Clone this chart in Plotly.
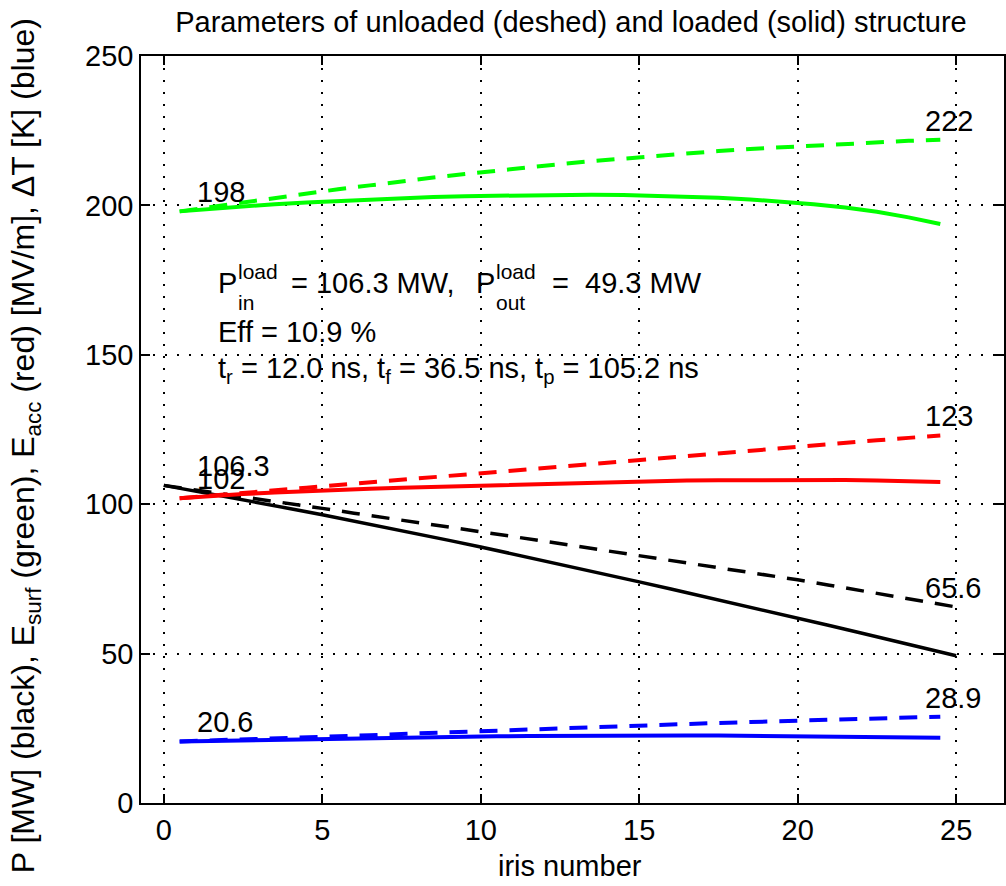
import plotly.graph_objects as go

# ---- data -----------------------------------------------------------------
iris = list(range(26))                    # iris index 0..25 (power)
cell = [i + 0.5 for i in range(25)]       # cell centres 0.5..24.5 (fields, dT)

# input / output power [MW]
p_unloaded = [106.3, 104.8, 103.2, 101.7, 100.1, 98.6, 97.0, 95.5, 93.9, 92.4,
              90.8, 89.2, 87.6, 86.0, 84.4, 82.8, 81.2, 79.6, 78.0, 76.4,
              74.7, 72.9, 71.1, 69.3, 67.5, 65.6]
p_loaded = [106.3, 104.4, 102.5, 100.5, 98.5, 96.5, 94.4, 92.3, 90.1, 87.9,
            85.7, 83.4, 81.1, 78.8, 76.4, 74.0, 71.6, 69.2, 66.8, 64.4,
            61.9, 59.4, 56.9, 54.4, 51.9, 49.3]

# surface field [MV/m]
esurf_unloaded = [198.0, 199.5, 201.1, 202.5, 204.0, 205.4, 206.7, 208.1, 209.3,
                  210.5, 211.7, 212.8, 213.8, 214.8, 215.7, 216.6, 217.4, 218.2,
                  218.9, 219.5, 220.1, 220.7, 221.2, 221.6, 222.0]
esurf_loaded = [198.0, 198.9, 199.7, 200.4, 201.0, 201.5, 202.0, 202.4, 202.8,
                203.1, 203.3, 203.5, 203.6, 203.6, 203.5, 203.3, 203.0, 202.6,
                202.0, 201.3, 200.4, 199.3, 197.9, 196.0, 193.8]

# accelerating field [MV/m]
eacc_unloaded = [102.0, 102.8, 103.7, 104.6, 105.5, 106.4, 107.3, 108.2, 109.1,
                 110.0, 110.9, 111.8, 112.7, 113.6, 114.5, 115.4, 116.3, 117.2,
                 118.0, 118.9, 119.7, 120.6, 121.4, 122.2, 123.0]
eacc_loaded = [102.0, 102.8, 103.4, 103.9, 104.4, 104.8, 105.2, 105.5, 105.8,
               106.1, 106.4, 106.7, 107.0, 107.3, 107.5, 107.7, 107.9, 108.0,
               108.1, 108.2, 108.2, 108.1, 107.9, 107.7, 107.4]

# pulsed surface heating dT [K]
dt_unloaded = [20.6, 20.9, 21.2, 21.5, 21.9, 22.3, 22.7, 23.1, 23.5, 23.9, 24.3,
               24.7, 25.1, 25.5, 25.8, 26.2, 26.5, 26.8, 27.1, 27.4, 27.7, 28.0,
               28.3, 28.6, 28.9]
dt_loaded = [20.6, 20.8, 21.0, 21.2, 21.4, 21.6, 21.8, 22.0, 22.1, 22.2, 22.3,
             22.4, 22.5, 22.5, 22.6, 22.6, 22.6, 22.6, 22.5, 22.5, 22.4, 22.3,
             22.2, 22.0, 21.8]

# summary figures
pin_load = 106.3
pout_load = 49.3
eff = 10.9
t_rise = 12.0
t_fill = 36.5
t_pulse = 105.2

x_ticks = [0, 5, 10, 15, 20, 25]
y_ticks = [0, 50, 100, 150, 200, 250]

# ---- figure ---------------------------------------------------------------
W, H = 1006, 886
L, R, T, B = 141, 0, 56, 83
FONT = "Liberation Sans, Arial, Helvetica, sans-serif"
DASH = "18px,12px"

fig = go.Figure()

series = [
    (iris, p_unloaded, "black", DASH, 3.5),
    (iris, p_loaded, "black", "solid", 3.5),
    (cell, esurf_unloaded, "#00ff00", DASH, 4),
    (cell, esurf_loaded, "#00ff00", "solid", 4),
    (cell, eacc_unloaded, "#ff0000", DASH, 4),
    (cell, eacc_loaded, "#ff0000", "solid", 4),
    (cell, dt_unloaded, "#0000ff", DASH, 4),
    (cell, dt_loaded, "#0000ff", "solid", 4),
]
for xs, ys, col, dash, w in series:
    fig.add_trace(go.Scatter(x=xs, y=ys, mode="lines",
                             line=dict(color=col, width=w, dash=dash),
                             showlegend=False, hoverinfo="skip"))

# value labels at the start and end of the curves
def fmt(v):
    return f"{round(v, 1):g}"

value_labels = [
    (cell[0], esurf_loaded[0]),
    (cell[-1], esurf_unloaded[-1]),
    (cell[0], eacc_loaded[0]),
    (cell[-1], eacc_unloaded[-1]),
    (iris[0], p_loaded[0]),
    (iris[-1], p_unloaded[-1]),
    (cell[0], dt_loaded[0]),
    (cell[-1], dt_unloaded[-1]),
]
for xv, yv in value_labels:
    xpos = 1 if xv < 12 else 24
    fig.add_annotation(x=xpos, y=yv, text=fmt(yv), showarrow=False,
                       xanchor="left", yanchor="bottom", xref="x", yref="y",
                       yshift=2, font=dict(size=29, color="black"),
                       borderpad=0)

# summary text block (positions in pixels inside the figure)
PW = W - L - R
PH = H - T - B

def px(xp):
    return (xp - L) / PW

def py(yp):
    return (H - B - yp) / PH

big, small = 29, 21
pieces = [
    ("P", 217, 283, big),
    ("load", 237, 271, small),
    ("in", 237, 302, small),
    (f"= {pin_load:.1f} MW,", 290, 283, big),
    ("P", 476, 283, big),
    ("load", 496, 271, small),
    ("out", 496, 302, small),
    (f"=\u00a0 {pout_load:.1f} MW", 552, 283, big),
    (f"Eff = {eff:.1f} %", 217, 332, big),
    (f"t<sub>r</sub> = {t_rise:.1f} ns, t<sub>f</sub> = {t_fill:.1f} ns, "
     f"t<sub>p</sub> = {t_pulse:.1f} ns", 217, 370, big),
]
for txt, xp, yp, fs in pieces:
    fig.add_annotation(x=px(xp), y=py(yp), xref="paper", yref="paper",
                       text=txt, showarrow=False, xanchor="left",
                       yanchor="middle", font=dict(size=fs, color="black"),
                       borderpad=0)

# axis titles
fig.add_annotation(x=px(25), y=py(446), xref="paper", yref="paper",
                   text="P [MW] (black), E<sub>surf</sub> (green), "
                        "E<sub>acc</sub> (red) [MV/m], \u0394T [K] (blue)",
                   textangle=-90, showarrow=False, xanchor="center",
                   yanchor="middle", font=dict(size=32, color="black"))
fig.add_annotation(x=px(571), y=py(866), xref="paper", yref="paper",
                   text="iris number", showarrow=False, xanchor="center",
                   yanchor="middle", font=dict(size=29, color="black"))

axis_common = dict(
    showline=True, linecolor="black", linewidth=1.5, mirror="ticks",
    ticks="inside", ticklen=9, tickwidth=1.5, tickcolor="black",
    showgrid=True, gridcolor="black", gridwidth=2, griddash="2px,10px",
    zeroline=False, tickfont=dict(size=29, color="black"),
)

fig.update_xaxes(range=[-0.72, 26.51], tickvals=x_ticks, **axis_common)
fig.update_yaxes(range=[0, 250], tickvals=y_ticks, **axis_common)

fig.update_layout(
    width=W, height=H,
    margin=dict(l=L, r=R, t=T, b=B, pad=0),
    paper_bgcolor="white", plot_bgcolor="white",
    font=dict(family=FONT, color="black"),
    title=dict(text="Parameters of unloaded (deshed) and loaded (solid) structure",
               x=571 / W, xref="container",
               y=1 - 22 / H, yref="container", xanchor="center",
               yanchor="middle", font=dict(size=29, color="black")),
)

fig.write_html("out.html")
